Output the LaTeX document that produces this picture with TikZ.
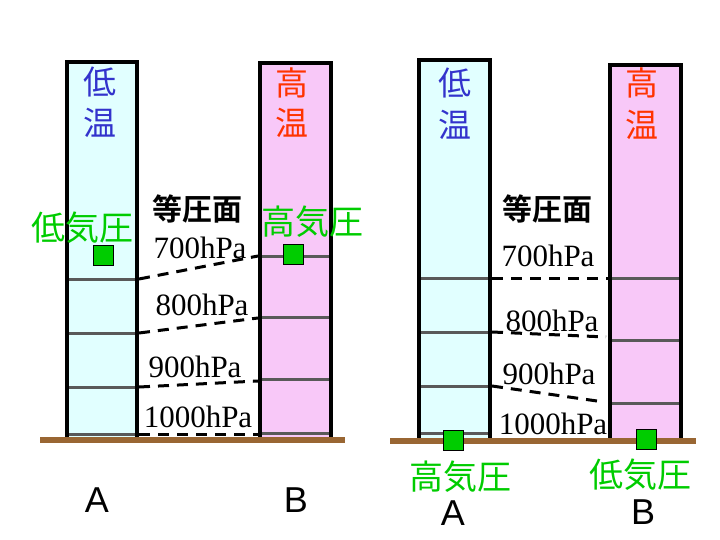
\documentclass[tikz,border=0pt]{standalone}
\usepackage{fontspec}
\setmainfont{Liberation Serif}
\newfontfamily\jpfont{Noto Sans CJK JP}
\newfontfamily\jpbold{Noto Sans CJK JP Bold}
\newfontfamily\latinsans{Liberation Sans}
\definecolor{lowT}{RGB}{51,51,204}
\definecolor{highT}{RGB}{255,51,0}
\definecolor{grn}{RGB}{0,204,0}
\definecolor{groundc}{RGB}{153,102,51}
\definecolor{cyanfill}{RGB}{225,255,255}
\definecolor{pinkfill}{RGB}{248,200,248}
\tikzset{
  colbox/.style={draw=black, line width=3.5pt},
  levelline/.style={draw=black!65, line width=3pt},
  isobar/.style={draw=black, line width=3pt, dash pattern=on 11pt off 8pt},
  groundline/.style={draw=groundc, line width=6pt},
  sq/.style={draw=black, fill=grn, minimum size=20pt, inner sep=0pt, line width=1pt},
  tempchar/.style={font=\jpfont\fontsize{33}{33}\selectfont, inner sep=0pt},
  pressure/.style={font=\jpfont\fontsize{34}{34}\selectfont, text=grn, inner sep=0pt},
  titletext/.style={font=\jpbold\fontsize{30}{30}\selectfont, inner sep=0pt},
  hpa/.style={font=\fontsize{31}{31}\selectfont, inner sep=0pt},
  letter/.style={font=\latinsans\fontsize{36}{36}\selectfont, inner sep=0pt}
}
\begin{document}
\begin{tikzpicture}[x=1pt,y=-1pt]
\useasboundingbox (0,0) rectangle (720,540);
% ---------- left panel ----------
\fill[cyanfill] (67,62) rectangle (137,440);
\fill[pinkfill] (260,63) rectangle (331,440);
\foreach \yy in {279,333,387,434} \draw[levelline] (69,\yy) -- (135,\yy);
\foreach \yy in {256,317,379,433} \draw[levelline] (262,\yy) -- (329,\yy);
\draw[colbox] (67,440) -- (67,62) -- (137,62) -- (137,440);
\draw[colbox] (260,440) -- (260,63) -- (331,63) -- (331,440);
\coordinate (g1a) at (40,440);
\coordinate (g1b) at (345,440);
\draw[groundline] (g1a) -- (g1b);
\coordinate (a700) at (139,279); \coordinate (b700) at (258,256);
\coordinate (a800) at (139,333); \coordinate (b800) at (258,318);
\coordinate (a900) at (139,387); \coordinate (b900) at (258,381);
\coordinate (a1000) at (139,434); \coordinate (b1000) at (258,434);
\draw[isobar] (a700) -- (b700);
\draw[isobar] (a800) -- (b800);
\draw[isobar] (a900) -- (b900);
\draw[isobar] (a1000) -- (b1000);
\node[tempchar, text=lowT] (lt1) at (100,82) {低};
\node[tempchar, text=lowT] (lt2) at (100,123) {温};
\node[tempchar, text=highT] (ht1) at (292,83) {高};
\node[tempchar, text=highT] (ht2) at (292,123) {温};
\node[titletext] (t1) at (197,209) {等圧面};
\node[pressure] (lp1) at (82,228) {低気圧};
\node[pressure] (hp1) at (312,222) {高気圧};
\node[sq] (s1) at (103,255) {};
\node[sq] (s2) at (293,254) {};
\node[hpa] (l700) at (200,248) {700hPa};
\node[hpa] (l800) at (202,305) {800hPa};
\node[hpa] (l900) at (195,367) {900hPa};
\node[hpa] (l1000) at (198,417) {1000hPa};
\node[letter] (A1) at (97,500) {A};
\node[letter] (B1) at (296,500) {B};
% ---------- right panel ----------
\fill[cyanfill] (419,60) rectangle (490,441);
\fill[pinkfill] (610,65) rectangle (681,441);
\foreach \yy in {278,332,386,433} \draw[levelline] (417,\yy) -- (488,\yy);
\foreach \yy in {278,340,403} \draw[levelline] (612,\yy) -- (679,\yy);
\draw[colbox] (419,441) -- (419,60) -- (490,60) -- (490,441);
\draw[colbox] (610,441) -- (610,65) -- (681,65) -- (681,441);
\coordinate (g2a) at (390,441);
\coordinate (g2b) at (696,441);
\draw[groundline] (g2a) -- (g2b);
\coordinate (c700) at (492,278); \coordinate (d700) at (608,278);
\coordinate (c800) at (492,332); \coordinate (d800) at (606,337);
\coordinate (c900) at (492,386); \coordinate (d900) at (604,402);
\draw[isobar] (c700) -- (d700);
\draw[isobar] (c800) -- (d800);
\draw[isobar] (c900) -- (d900);
\node[tempchar, text=lowT] (lt3) at (455,83) {低};
\node[tempchar, text=lowT] (lt4) at (455,125) {温};
\node[tempchar, text=highT] (ht3) at (642,83) {高};
\node[tempchar, text=highT] (ht4) at (642,125) {温};
\node[titletext] (t2) at (547,209) {等圧面};
\node[hpa] (r700) at (548,256) {700hPa};
\node[hpa] (r800) at (552,321) {800hPa};
\node[hpa] (r900) at (549,374) {900hPa};
\node[hpa] (r1000) at (553,424) {1000hPa};
\node[sq] (s3) at (453,440) {};
\node[sq] (s4) at (646,439) {};
\node[pressure] (hp2) at (460,477) {高気圧};
\node[pressure] (lp2) at (640,475) {低気圧};
\node[letter] (A2) at (453,513) {A};
\node[letter] (B2) at (643,512) {B};
\end{tikzpicture}
\end{document}
